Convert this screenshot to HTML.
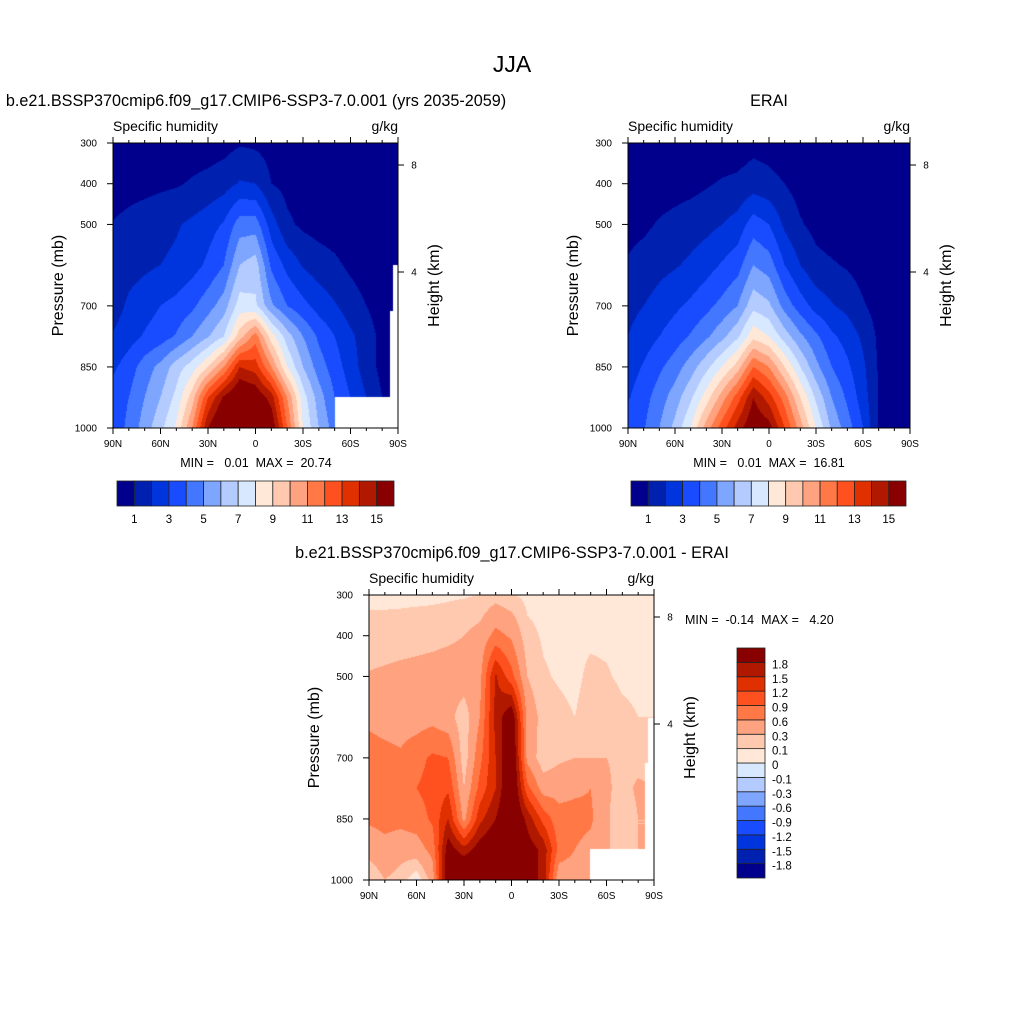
<!DOCTYPE html>
<html><head><meta charset="utf-8">
<style>
html,body{margin:0;padding:0;background:#fff;}
#wrap{position:relative;width:1024px;height:1024px;overflow:hidden;font-family:"Liberation Sans",sans-serif;}
canvas{position:absolute;}
svg{position:absolute;left:0;top:0;}
</style></head>
<body>
<div id="wrap">
<canvas id="c1" width="285" height="285" style="left:113px;top:143px"></canvas>
<canvas id="c2" width="282" height="285" style="left:628px;top:143px"></canvas>
<canvas id="c3" width="285" height="285" style="left:369px;top:595px"></canvas>
<svg id="svg" width="1024" height="1024"></svg>
</div>
<script>
// ---------- data ----------
const lats = [90,80,70,60,50,40,30,20,10,0,-10,-20,-30,-40,-50,-60,-70,-80,-90];
const pressures = [300,400,500,600,700,775,850,925,1000];
const modelQ = [
 [0.5,0.5,0.5,0.5,0.5,0.5,0.5,0.6,0.9,0.8,0.6,0.5,0.5,0.5,0.5,0.4,0.4,0.3,0.3],
 [0.5,0.6,0.7,0.8,0.9,1.1,1.3,1.6,2.1,2.0,1.0,0.7,0.5,0.5,0.5,0.4,0.4,0.3,0.3],
 [1.05,1.3,1.5,1.7,1.9,2.2,2.6,3.1,4.5,4.5,2.5,1.2,0.8,0.6,0.5,0.4,0.35,0.3,0.3],
 [1.3,1.6,1.8,2.0,2.2,2.6,3.2,4.0,6.0,6.5,3.8,2.7,1.9,1.5,1.2,0.8,0.5,0.4,0.3],
 [1.5,2.2,2.6,3.0,3.3,3.8,4.6,5.5,7.5,7.2,5.2,4.0,3.3,2.6,2.1,1.5,1.0,0.5,0.3],
 [2.1,2.6,3.1,3.5,4.1,5.0,5.9,7.0,9.5,11.5,8.5,6.5,5.0,3.8,3.0,2.2,1.5,0.7,0.5],
 [2.8,3.5,4.5,5.3,6.5,7.5,9.0,11,14,13.5,11,8.0,6.0,4.5,3.5,2.5,1.5,0.7,0.5],
 [3.5,4.0,5.0,6.0,7.3,9.5,13,15.2,16.5,16,14.5,11,7.5,5.5,4.0,3.0,2.0,1.0,0.5],
 [3.5,4.2,5.5,6.7,8.2,11,15,17,19,18,16,12,8.0,6.0,4.5,4.0,3.0,2.0,1.0]
];
const eraiQ = [
 [0.3,0.3,0.3,0.3,0.3,0.3,0.4,0.5,0.7,0.6,0.4,0.3,0.3,0.3,0.3,0.3,0.3,0.3,0.3],
 [0.4,0.4,0.5,0.6,0.7,0.9,1.1,1.2,1.5,1.3,1.0,0.6,0.5,0.4,0.4,0.4,0.4,0.4,0.4],
 [0.7,0.8,1.1,1.3,1.5,1.7,2.0,2.4,3.5,3.0,1.8,1.1,0.7,0.5,0.5,0.4,0.4,0.4,0.4],
 [1.1,1.4,1.7,1.9,2.2,2.6,3.1,3.6,5.0,4.5,3.0,2.0,1.3,1.1,0.9,0.6,0.4,0.4,0.4],
 [1.7,2.0,2.4,2.8,3.2,3.7,4.3,5.0,6.7,6.2,4.6,3.5,2.6,2.1,1.7,1.1,0.6,0.5,0.4],
 [2.0,2.5,3.0,3.5,4.1,4.8,5.7,6.8,8.7,8.0,6.5,5.2,4.2,3.2,2.6,1.8,0.8,0.5,0.4],
 [2.5,3.1,3.8,4.5,5.5,6.7,8.0,9.5,12,11,9.0,7.0,5.3,4.0,3.2,2.2,0.9,0.5,0.4],
 [2.9,3.6,4.5,5.5,6.8,8.5,10.5,12.5,15,13.5,11.5,9.0,6.8,5.0,3.8,2.5,0.9,0.5,0.4],
 [3.5,3.9,5.0,6.3,8.0,10.5,12.5,14.5,16,15.5,13,10.5,8.0,5.8,4.5,3.0,0.9,0.5,0.4]
];
const diffQ = [
 [0.06,0.06,0.06,0.06,0.06,0.07,0.08,0.1,0.2,0.12,0.05,0.05,0.05,0.05,0.05,0.05,0.05,0.05,0.05],
 [0.17,0.17,0.18,0.2,0.22,0.25,0.3,0.4,0.7,0.55,0.15,0.08,0.06,0.06,0.06,0.06,0.06,0.06,0.06],
 [0.32,0.35,0.38,0.4,0.42,0.45,0.45,0.5,1.55,1.0,0.3,0.12,0.08,0.05,0.15,0.12,0.06,0.05,0.05],
 [0.55,0.5,0.45,0.45,0.5,0.4,0.15,0.6,1.6,2.1,0.5,0.2,0.15,0.1,0.2,0.25,0.15,0.1,0.1],
 [0.7,0.68,0.65,0.8,0.95,0.9,0.15,0.8,1.5,2.3,0.5,0.15,0.25,0.3,0.3,0.3,0.25,0.2,0.2],
 [0.7,0.72,0.75,0.9,1.0,1.15,0.3,1.0,1.5,2.3,1.0,0.45,0.5,0.55,0.6,0.35,0.2,0.35,0.3],
 [0.65,0.7,0.7,0.75,0.95,1.5,0.5,1.4,1.8,2.3,1.7,1.1,0.7,0.7,0.65,0.35,0.1,0.3,0.3],
 [0.4,0.5,0.4,0.45,0.7,2.0,1.6,2.0,2.2,2.2,2.0,1.7,0.8,0.6,0.5,0.3,0.3,0.3,0.3],
 [0.1,0.3,0.2,-0.05,0.4,2.2,2.5,2.5,2.5,2.3,2.0,1.7,0.35,0.4,0.4,0.3,0.3,0.3,0.3]
];
const qLevels = [1,2,3,4,5,6,7,8,9,10,11,12,13,14,15];
const qTickLabels = ["1","3","5","7","9","11","13","15"];
const dLevels = [-1.8,-1.5,-1.2,-0.9,-0.6,-0.3,-0.1,0,0.1,0.3,0.6,0.9,1.2,1.5,1.8];
const dTickLabels = ["-1.8","-1.5","-1.2","-0.9","-0.6","-0.3","-0.1","0","0.1","0.3","0.6","0.9","1.2","1.5","1.8"];
const pTicks = [300,400,500,700,850,1000];
const latTicks = [90,60,30,0,-30,-60,-90];
const latTickLabels = ["90N","60N","30N","0","30S","60S","90S"];
const colors = ["#00008c","#0020b0","#0035dd","#1a4cff","#4477ff","#7ea6ff","#b3cbff","#d8e8ff",
 "#ffe8d8","#ffc9b0","#ffa27f","#ff7845","#ff5020","#e03000","#b01800","#880000"];

// ---------- helpers ----------
function hexRgb(h){return [parseInt(h.substr(1,2),16),parseInt(h.substr(3,2),16),parseInt(h.substr(5,2),16)];}
const rgb = colors.map(hexRgb);
function bandOf(v,levels){let k=0;while(k<levels.length&&v>=levels[k])k++;return k;}
function sample(grid,lat,p){
  let fi=(90-lat)/10; let i=Math.min(Math.floor(fi),lats.length-2); let ti=fi-i;
  let j=0; while(j<pressures.length-2&&p>pressures[j+1])j++;
  let tj=(p-pressures[j])/(pressures[j+1]-pressures[j]);
  const a=grid[j][i],b=grid[j][i+1],c=grid[j+1][i],d=grid[j+1][i+1];
  return (a*(1-ti)+b*ti)*(1-tj)+(c*(1-ti)+d*ti)*tj;
}
function fillCanvas(id,grid,levels,masks){
  const cv=document.getElementById(id),ctx=cv.getContext('2d');
  const W=cv.width,H=cv.height,img=ctx.createImageData(W,H);
  for(let y=0;y<H;y++){const p=300+(y+0.5)/H*700;
    for(let x=0;x<W;x++){const lat=90-(x+0.5)/W*180;
      const c=rgb[bandOf(sample(grid,lat,p),levels)];const o=(y*W+x)*4;
      img.data[o]=c[0];img.data[o+1]=c[1];img.data[o+2]=c[2];img.data[o+3]=255;}}
  ctx.putImageData(img,0,0);
  ctx.fillStyle="#fff";masks.forEach(m=>ctx.fillRect(m[0],m[1],m[2],m[3]));
}
fillCanvas('c1',modelQ,qLevels,[[222,254,63,31],[280,122,5,132],[277,168,8,86]]);
fillCanvas('c2',eraiQ,qLevels,[]);
fillCanvas('c3',diffQ,dLevels,[[221,254,64,31],[279,123,6,131],[276,168,9,86]]);

const svg=document.getElementById('svg');const NS="http://www.w3.org/2000/svg";
function el(tag,attrs,parent){const e=document.createElementNS(NS,tag);for(const k in attrs)e.setAttribute(k,attrs[k]);(parent||svg).appendChild(e);return e;}
function txt(s,x,y,size,anchor,parent,rot){const t=el('text',{x:x,y:y,'font-size':size,'text-anchor':anchor||'middle',fill:'#000','font-family':'Liberation Sans, sans-serif'},parent);if(rot)t.setAttribute('transform','rotate(-90 '+x+' '+y+')');t.textContent=s;return t;}

const ft=txt("JJA",512,72,23,'middle');



function panel(name,x0,y0,w,h,title,titleX,titleY,minmax,mmX,mmY,mmAnchor){
  const g=el('g',{});
  
  
  const t=txt(title,titleX,titleY,16.2,'middle',g);
  
  
  const l=txt("Specific humidity",x0,y0-12,14,'start',g);
  
  
  const u=txt("g/kg",x0+w,y0-12,14,'end',g);
  
  
  const fr=el('rect',{x:x0,y:y0,width:w,height:h,fill:'none',stroke:'#000','stroke-width':1},g);
  
  
  const xs=lat=>x0+(90-lat)/180*w, ys=p=>y0+(p-300)/700*h;
  for(let lat=90;lat>=-90;lat-=10){const X=xs(lat),maj=lat%30===0,L=maj?6:3;
    el('line',{x1:X,x2:X,y1:y0,y2:y0-L,stroke:'#000'},g);
    el('line',{x1:X,x2:X,y1:y0+h,y2:y0+h+L,stroke:'#000'},g);}
  latTicks.forEach((lat,i)=>{const tl=txt(latTickLabels[i],xs(lat),y0+h+19,10,'middle',g);
    
    });
  pTicks.forEach(p=>{const Y=ys(p);el('line',{x1:x0,x2:x0-6,y1:Y,y2:Y,stroke:'#000'},g);
    const tl=txt(String(p),x0-16,Y+3.5,10,'end',g);
    
    });
  [[8,22],[4,129]].forEach(a=>{const Y=y0+a[1];el('line',{x1:x0+w,x2:x0+w+6,y1:Y,y2:Y,stroke:'#000'},g);
    const tl=txt(String(a[0]),x0+w+16,Y+3.5,10,'middle',g);
    
    });
  const yt=txt("Pressure (mb)",x0-50,y0+h/2,16,'middle',g,true);
  
  
  const ht=txt("Height (km)",x0+w+41,y0+h/2,16,'middle',g,true);
  
  
  const mm=el('text',{x:mmX,y:mmY,'font-size':12.5,'text-anchor':mmAnchor,'font-family':'Liberation Sans, sans-serif',style:'white-space:pre'},g);
  mm.textContent=minmax;
  
  
}
panel('model',113,143,285,285,"b.e21.BSSP370cmip6.f09_g17.CMIP6-SSP3-7.0.001 (yrs 2035-2059)",256,106,"MIN =   0.01  MAX =  20.74",256,467,'middle');
panel('erai',628,143,282,285,"ERAI",769,106,"MIN =   0.01  MAX =  16.81",769,467,'middle');
panel('diff',369,595,285,285,"b.e21.BSSP370cmip6.f09_g17.CMIP6-SSP3-7.0.001 - ERAI",512,558,"MIN =  -0.14  MAX =   4.20",685,624,'start');

function hbar(name,x0,y0,w,h){
  const g=el('g',{});
  
  
  const bw=w/colors.length;
  colors.forEach((c,i)=>{const r=el('rect',{x:x0+i*bw,y:y0,width:bw,height:h,fill:c,stroke:'#222','stroke-width':0.8},g);
    
    });
  qTickLabels.forEach((s,i)=>{const t=txt(s,x0+(2*i+1)*bw,y0+h+17,11.5,'middle',g);
    
    });
}
hbar('model-colorbar',117,481,277,25);
hbar('erai-colorbar',631,481,275,25);

(function(){
  const g=el('g',{});
  
  
  const x0=737,y0=648,w=28,h=230,bh=h/colors.length;
  colors.forEach((c,i)=>{const r=el('rect',{x:x0,y:y0+h-(i+1)*bh,width:w,height:bh,fill:c,stroke:'#222','stroke-width':0.8},g);
    
    });
  dTickLabels.forEach((s,i)=>{const t=txt(s,x0+w+7,y0+h-(i+1)*bh+6,11.5,'start',g);
    
    });
})();
</script>
</body></html>
